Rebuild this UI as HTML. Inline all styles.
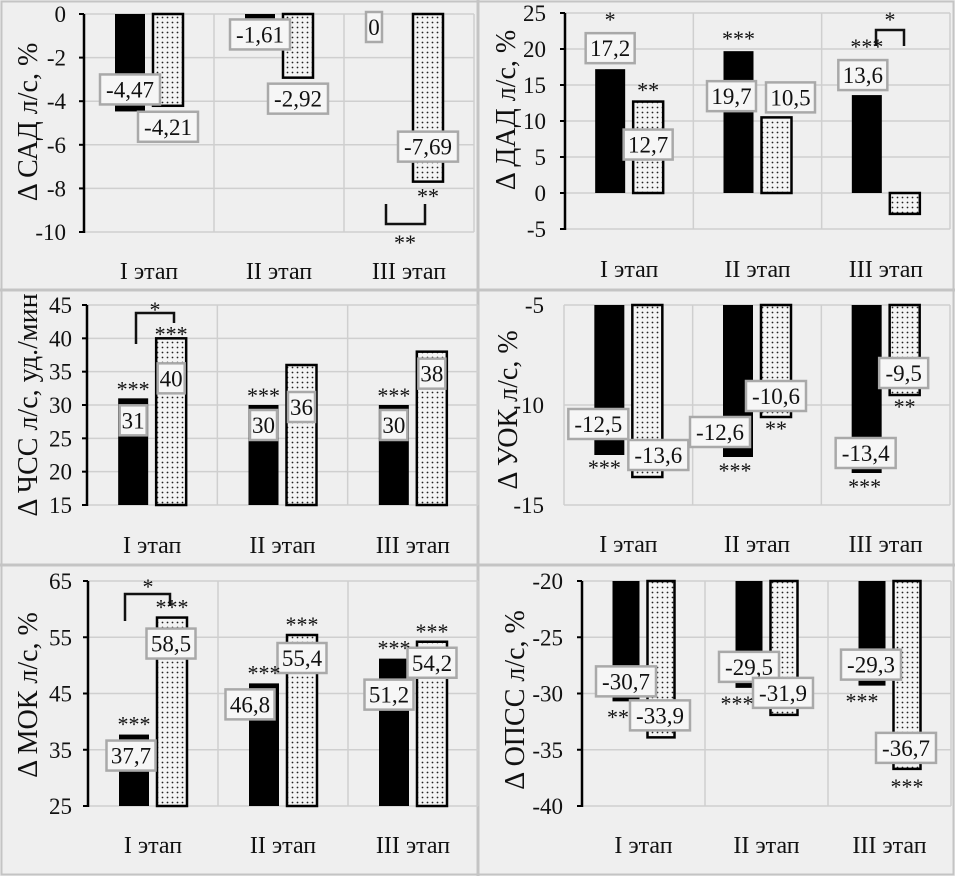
<!DOCTYPE html>
<html><head><meta charset="utf-8">
<style>
html,body{margin:0;padding:0;background:#efefef;}
svg{display:block;font-family:"Liberation Serif","DejaVu Serif",serif;}
</style></head>
<body>
<svg id="c" width="955" height="876" viewBox="0 0 955 876" xmlns="http://www.w3.org/2000/svg">
<defs>
<pattern id="dots" width="5" height="5" patternUnits="userSpaceOnUse">
<rect width="5" height="5" fill="#f4f4f4"/><circle cx="2.5" cy="2.5" r="0.9" fill="#222"/>
</pattern>
</defs>
<rect x="0" y="0" width="955" height="876" fill="#efefef"/>
<rect x="1.5" y="1.5" width="952" height="873" fill="none" stroke="#c4c4c4" stroke-width="2"/>
<line x1="478" y1="0" x2="478" y2="876" stroke="#c4c4c4" stroke-width="3"/>
<line x1="0" y1="290" x2="955" y2="290" stroke="#c4c4c4" stroke-width="3"/>
<line x1="0" y1="565" x2="955" y2="565" stroke="#c4c4c4" stroke-width="3"/>
</svg>
<script>
const categories = ["I этап","II этап","III этап"];
// panel 1: САД
const sadBlack = [-4.47, -0.25, 0];
const sadDotted = [-4.21, -2.92, -7.69];
const sadLabelsBlack = ["-4,47","-1,61","0"];
const sadLabelsDotted = ["-4,21","-2,92","-7,69"];
const sadTicks = [0,-2,-4,-6,-8,-10];
// panel 2: ДАД
const dadBlack = [17.2, 19.7, 13.6];
const dadDotted = [12.7, 10.5, -2.9];
const dadLabelsBlack = ["17,2","19,7","13,6"];
const dadLabelsDotted = ["12,7","10,5",""];
const dadTicks = [25,20,15,10,5,0,-5];
// panel 3: ЧСС
const hrBlack = [31, 30, 30];
const hrDotted = [40, 36, 38];
const hrLabelsBlack = ["31","30","30"];
const hrLabelsDotted = ["40","36","38"];
const hrTicks = [45,40,35,30,25,20,15];
// panel 4: УОК
const svBlack = [-12.5, -12.6, -13.4];
const svDotted = [-13.6, -10.6, -9.5];
const svLabelsBlack = ["-12,5","-12,6","-13,4"];
const svLabelsDotted = ["-13,6","-10,6","-9,5"];
const svTicks = [-5,-10,-15];
// panel 5: МОК
const coBlack = [37.7, 46.8, 51.2];
const coDotted = [58.5, 55.4, 54.2];
const coLabelsBlack = ["37,7","46,8","51,2"];
const coLabelsDotted = ["58,5","55,4","54,2"];
const coTicks = [65,55,45,35,25];
// panel 6: ОПСС
const prBlack = [-30.7, -29.5, -29.3];
const prDotted = [-33.9, -31.9, -36.7];
const prLabelsBlack = ["-30,7","-29,5","-29,3"];
const prLabelsDotted = ["-33,9","-31,9","-36,7"];
const prTicks = [-20,-25,-30,-35,-40];

const NS = "http://www.w3.org/2000/svg";
const svg = document.getElementById("c");
function mk(tag, attrs, parent){
  const e = document.createElementNS(NS, tag);
  for (const k in attrs) e.setAttribute(k, attrs[k]);
  (parent||svg).appendChild(e);
  return e;
}
function txt(s, x, y, size, anchor, parent){
  const t = mk("text", {x:x, y:y, "font-size":size, "text-anchor":anchor||"middle", fill:"#111"}, parent);
  t.textContent = s;
  return t;
}

function panel(p){
  const g = mk("g", {});
  
  
  const yS = v => p.yTop + (p.vMax - v) / (p.vMax - p.vMin) * (p.yBot - p.yTop);
  const step = (p.x1 - p.x0) / categories.length;
  const xC = i => p.x0 + step * (i + 0.5);
  p.ticks.forEach(t => {
    const l = mk("line", {x1:p.x0, x2:p.x1, y1:yS(t), y2:yS(t), stroke:"#cfcfcf", "stroke-width":1.5}, g);
    
    
    const tl = txt(String(t), p.tickX, yS(t) + 8, 23, "end", g);
    
    
  });
  for (let i = 0; i <= categories.length; i++) {
    mk("line", {x1:p.x0 + step*i, x2:p.x0 + step*i, y1:p.yTop, y2:p.yBot, stroke:"#cfcfcf", "stroke-width":1.5}, g);
  }
  const base = yS(p.base);
  const drawBar = (v, i, black) => {
    const c = xC(i);
    const x = black ? c - p.off - p.bw : c + p.off;
    const y1 = Math.min(yS(v), base), y2 = Math.max(yS(v), base);
    const r = mk("rect", {x:x, y:y1, width:p.bw, height:Math.max(y2 - y1, 0),
      fill: black ? "#000" : "url(#dots)", stroke:"#000", "stroke-width": black ? 0 : 2.5}, g);
    
    
    return {c: x + p.bw/2, end: yS(v)};
  };
  const endsB = p.black.map((v,i) => drawBar(v, i, true));
  const endsD = p.dotted.map((v,i) => drawBar(v, i, false));
  if (p.axis) {
    const a = mk("line", {x1:p.x0, x2:p.x0, y1:p.yTop, y2:p.yBot + 1, stroke:"#000", "stroke-width":2.5}, g);
    
    
    p.ticks.forEach(t => mk("line", {x1:p.x0 - 5, x2:p.x0, y1:yS(t), y2:yS(t), stroke:"#000", "stroke-width":2}, g));
  }
  const lab = (s, e, o) => {
    if (!s) return;
    const w = s.length * 11 + 5, h = 30;
    const cx = e.c + o[0], cy = e.end + o[1];
    const bg = mk("g", {}, g);
    
    
    mk("rect", {x:cx - w/2, y:cy - h/2, width:w, height:h, fill:"#f6f6f6", stroke:"#a9a9a9", "stroke-width":2.5}, bg);
    txt(s, cx, cy + 8, 23, "middle", bg);
  };
  p.labelsBlack.forEach((s,i) => lab(s, endsB[i], p.offB[i]));
  p.labelsDotted.forEach((s,i) => lab(s, endsD[i], p.offD[i]));
  p.stars.forEach(st => {
    const e = (st[0] === 0 ? endsB : endsD)[st[1]];
    const t = txt(st[2], e.c + (st[4]||0), e.end + st[3], 22, "middle", g);
    
    
  });
  if (p.bracket) {
    const b = p.bracket;
    mk("path", {d:b.d, fill:"none", stroke:"#111", "stroke-width":2.5}, g);
    txt(b.t, b.tx, b.ty, 22, "middle", g);
  }
  categories.forEach((c,i) => {
    const t = txt(c, xC(i), p.catY, 24, "middle", g);
    
    
  });
  const tt = txt(p.title, 0, 0, 28, "middle", g);
  tt.setAttribute("transform", `translate(${p.titleX},${p.titleY}) rotate(-90)`);
  
  
}

panel({name:"panel-sad", x0:84, x1:474, yTop:14, yBot:232, vMax:0, vMin:-10, base:0,
  ticks:sadTicks, tickX:66, black:sadBlack, dotted:sadDotted, bw:30, off:4, axis:true,
  labelsBlack:sadLabelsBlack, labelsDotted:sadLabelsDotted,
  offB:[[0,-22],[0,15],[-16,13]], offD:[[0,21],[0,21],[0,-35]],
  stars:[[1,2,"**",22]], bracket:{d:"M386 204 V224 H425 V204", t:"**", tx:405, ty:250},
  catY:279, title:"Δ САД л/с, %", titleX:37, titleY:122});
panel({name:"panel-dad", x0:565, x1:950, yTop:13, yBot:229, vMax:25, vMin:-5, base:0,
  ticks:dadTicks, tickX:546, black:dadBlack, dotted:dadDotted, bw:30, off:4, axis:true,
  labelsBlack:dadLabelsBlack, labelsDotted:dadLabelsDotted,
  offB:[[0,-21],[-7,45],[-4,-20]], offD:[[0,43],[14,-20],[0,0]],
  stars:[[0,0,"*",-42],[1,0,"**",-4],[0,1,"***",-5],[0,2,"***",-41]],
  bracket:{d:"M876 46 V30 H904 V46", t:"*", tx:890, ty:27},
  catY:277, title:"Δ ДАД л/с, %", titleX:515, titleY:110});
panel({name:"panel-hr", x0:87, x1:478, yTop:305, yBot:505, vMax:45, vMin:15, base:15,
  ticks:hrTicks, tickX:72, black:hrBlack, dotted:hrDotted, bw:30, off:4, axis:true,
  labelsBlack:hrLabelsBlack, labelsDotted:hrLabelsDotted,
  offB:[[0,22],[0,20],[0,20]], offD:[[0,40],[0,42],[0,22]],
  stars:[[0,0,"***",-2],[1,0,"***",3],[0,1,"***",-2],[0,2,"***",-2]],
  bracket:{d:"M136 344 V313 H174 V323", t:"*", tx:155, ty:317},
  catY:553, title:"Δ ЧСС л/с, уд./мин", titleX:37, titleY:405});
panel({name:"panel-sv", x0:564, x1:950, yTop:305, yBot:505, vMax:-5, vMin:-15, base:-5,
  ticks:svTicks, tickX:544, black:svBlack, dotted:svDotted, bw:30, off:4, axis:false,
  labelsBlack:svLabelsBlack, labelsDotted:svLabelsDotted,
  offB:[[-11,-31],[-18,-25],[-1,-20]], offD:[[11,-22],[0,-21],[-1,-22]],
  stars:[[0,0,"***",20,-5],[1,1,"**",19],[0,1,"***",21,-3],[1,2,"**",19],[0,2,"***",21,-2]],
  catY:552, title:"Δ УОК л/с, %", titleX:517, titleY:410});
panel({name:"panel-co", x0:88, x1:478, yTop:581, yBot:806, vMax:65, vMin:25, base:25,
  ticks:coTicks, tickX:72, black:coBlack, dotted:coDotted, bw:30, off:4, axis:true,
  labelsBlack:coLabelsBlack, labelsDotted:coLabelsDotted,
  offB:[[-3,21],[-14,21],[-5,36]], offD:[[-1,26],[0,23],[0,21]],
  stars:[[0,0,"***",-3],[1,0,"***",-3],[0,1,"***",-3],[1,1,"***",-3],[0,2,"***",-3],[1,2,"***",-3]],
  bracket:{d:"M125 621 V594 H170 V606", t:"*", tx:148, ty:594},
  catY:853, title:"Δ МОК л/с, %", titleX:37, titleY:695});
panel({name:"panel-pr", x0:582, x1:951, yTop:581, yBot:806, vMax:-20, vMin:-40, base:-20,
  ticks:prTicks, tickX:563, black:prBlack, dotted:prDotted, bw:27, off:4, axis:true,
  labelsBlack:prLabelsBlack, labelsDotted:prLabelsDotted,
  offB:[[0,-20],[0,-21],[-1,-21]], offD:[[-1,-22],[-1,-22],[-1,-21]],
  stars:[[0,0,"**",23,-8],[0,1,"***",23,-12],[0,2,"***",23,-10],[1,2,"***",25]],
  catY:853, title:"Δ ОПСС л/с, %", titleX:524, titleY:700});
</script>
</body></html>
